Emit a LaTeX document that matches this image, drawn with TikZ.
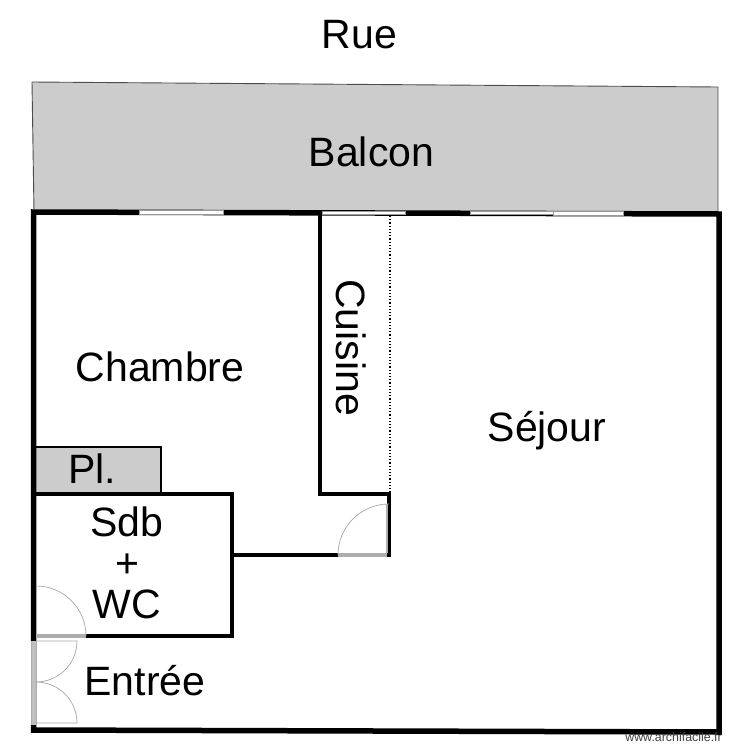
\documentclass[tikz,border=0pt]{standalone}
\usepackage{fontspec}
\setmainfont{Liberation Sans}
\usepackage{xcolor}
\definecolor{balcongray}{gray}{0.8}
\definecolor{doorgray}{gray}{0.68}
\tikzset{
    wall/.style={line width=5.5pt, black, line join=miter},
    thinwall/.style={line width=4pt, black},
    windowpane/.style={draw=gray!80, line width=1pt, fill=white},
    doorarc/.style={line width=0.7pt, draw=gray!70},
    doorleaf/.style={line width=4.5pt, doorgray},
    roomlabel/.style={font=\fontsize{41}{48}\selectfont, anchor=base, inner sep=0pt},
}
\begin{document}
\begin{tikzpicture}[x=1pt, y=-1pt]
    \useasboundingbox (0,0) rectangle (750,750);

    % balcon and placard
    \draw[fill=balcongray, draw=black!70, line width=0.9pt] (32,82) -- (718,87) -- (718,212) -- (34,212) -- cycle;
    \draw[fill=balcongray, draw=black, line width=2pt] (36,447) -- (161,447) -- (161,493) -- (36,493);

    % walls
    \draw[wall] (33.5,641) -- (33.5,212) -- (719,214) -- (719,732) -- (33.5,730) -- (33.5,725);
    \draw[thinwall] (319.5,212) -- (319.5,494) -- (389,494) -- (389,557);
    \draw[thinwall] (36,494) -- (232,494) -- (232,636) -- (86,636);
    \draw[thinwall] (232,555) -- (338,555);

    % windows
    \draw[windowpane] (139.5,210.5) rectangle (223,214);
    \draw[windowpane] (322,211) rectangle (405,214.5);
    \draw[windowpane] (470,211) rectangle (553,214.5);
    \draw[windowpane] (553,211.5) rectangle (623,215);

    % cuisine limit
    \draw[line width=1.2pt, dotted] (390,216) -- (390,492);

    % doors
    \draw[doorleaf] (338,555) -- (387,555);
    \draw[doorleaf, line width=2pt] (387,504) -- (387,553);
    \draw[doorarc] (338,555) arc[start angle=180, end angle=270, radius=51];
    \draw[doorleaf] (36,636) -- (86,636);
    \draw[doorarc] (36,586) arc[start angle=-90, end angle=0, radius=50];
    \draw[doorleaf, line width=1pt] (31.5,641) -- (31.5,725);
    \draw[doorleaf, line width=1pt] (36,641) -- (36,725);
    \draw[doorleaf, line width=3.5pt, gray!50] (33.8,641) -- (33.8,725);
    \draw[doorarc] (36,641) -- (77,641) arc[start angle=0, end angle=90, radius=41];
    \draw[doorarc] (36,682) arc[start angle=-90, end angle=0, radius=41] -- (36,723);

    % labels
    \node[roomlabel] (rue) at (359.5,48) {Rue};
    \node[roomlabel] (balcon) at (371.5,166) {Balcon};
    \node[roomlabel] (chambre) at (160,381) {Chambre};
    \node[roomlabel, rotate=-90] (cuisine) at (336,347.5) {Cuisine};
    \node[roomlabel] (sejour) at (547,441) {Séjour};
    \node[roomlabel] (placard) at (92,483) {Pl.};
    \node[roomlabel] (sdb) at (127,536) {Sdb};
    \node[roomlabel] (plus) at (127,577) {+};
    \node[roomlabel] (wc) at (127,618) {WC};
    \node[roomlabel] (entree) at (145,695) {Entrée};
    \node[font=\fontsize{12.4}{14}\selectfont, anchor=base east, inner sep=0pt, text=black!75] (site) at (722,741) {www.archifacile.fr};
\end{tikzpicture}
\end{document}
